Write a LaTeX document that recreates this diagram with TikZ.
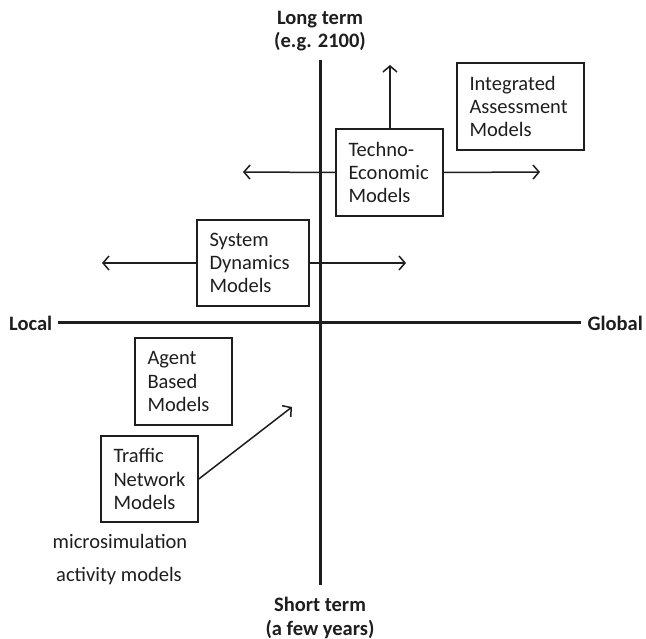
\documentclass[tikz,border=0pt]{standalone}
\usepackage{fontspec}
\setmainfont{Carlito}
\usetikzlibrary{arrows.meta}
\definecolor{ink}{HTML}{1E1E1E}
\begin{document}
\begin{tikzpicture}[x=1pt,y=-1pt,
  every node/.style={text=ink,font=\fontsize{20.5}{23.3}\selectfont},
  axis/.style={line width=3pt,draw=ink},
  lbl/.style={font=\fontsize{20.5}{23.3}\selectfont\bfseries,align=center},
  mbox/.style={draw=ink,line width=1.6pt,align=left,inner xsep=12.5pt,inner ysep=0pt},
  arr/.style={draw=ink,line width=1.5pt,-{Straight Barb[length=6pt,width=14pt,line width=1.5pt]}}]
\useasboundingbox[fill=white] (0,0) rectangle (646,639);
% labels
\node[lbl] (lt) at (320,31) {Long term\\(e.g. 2100)};
\node[lbl] (st) at (320,618) {Short term\\(a few years)};
\node[lbl,anchor=west,inner sep=0pt] (loc) at (9,323) {Local};
\node[lbl,anchor=east,inner sep=0pt] (glob) at (643,323) {Global};
% axes
\coordinate (vt) at (320,60);
\coordinate (vb) at (320,585);
\coordinate (hl) at (58,323);
\coordinate (hr) at (581,323);
\draw[axis] (vt) -- (vb);
\draw[axis] (hl) -- (hr);
% boxes
\node[mbox,text width=82pt,minimum height=87pt] (te) at (389.5,172.5) {Techno-\\Economic\\Models};
\node[mbox,text width=102pt,minimum height=87pt] (ia) at (520.5,106.5) {Integrated\\Assessment\\Models};
\node[mbox,text width=87pt,minimum height=86pt,fill=white] (sd) at (253,263) {System\\Dynamics\\Models};
\node[mbox,text width=72pt,minimum height=87pt] (ab) at (183.5,381.5) {Agent\\Based\\Models};
\node[mbox,text width=72pt,minimum height=86pt] (tn) at (149.5,479) {Traffic\\Network\\Models};
\node (ms) at (120,541) {microsimulation};
\node (am) at (119,576) {activity models};
% arrow ends
\coordinate (teU) at (390,65);
\coordinate (teL) at (243,172);
\coordinate (teR) at (540,172);
\coordinate (sdL) at (102,263);
\coordinate (sdR) at (406,263);
\coordinate (tnE) at (292,407);
\draw[arr] (te.north -| teU) -- (teU);
\draw[arr] (te.west) -- (teL);
\draw[arr] (te.east) -- (teR);
\draw[arr] (sd.west) -- (sdL);
\draw[arr] (sd.east) -- (sdR);
\draw[arr] (tn.east) -- (tnE);
\end{tikzpicture}
\end{document}
